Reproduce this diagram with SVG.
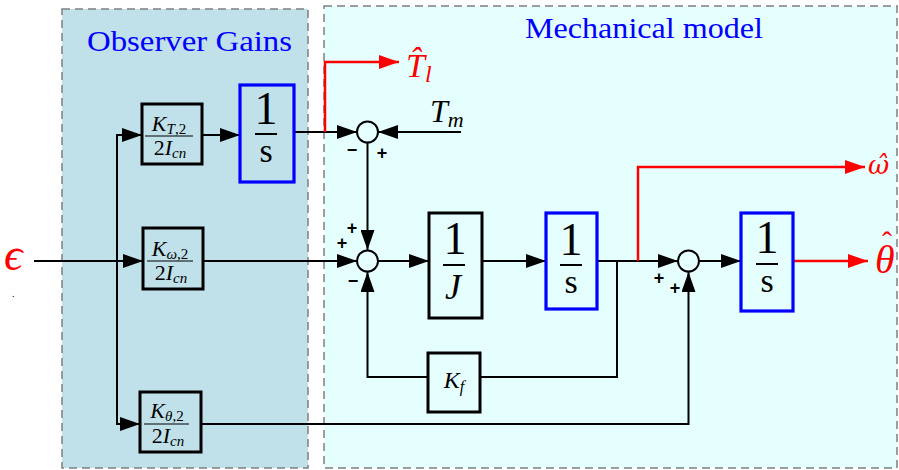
<svg xmlns="http://www.w3.org/2000/svg" width="899" height="470" viewBox="0 0 899 470">
<style>
.panel{stroke:#7f7f7f;stroke-width:1.5;stroke-dasharray:8 5}
.blk{fill:none;stroke:#000;stroke-width:3}
.blu{fill:none;stroke:#0000ff;stroke-width:3.2}
.w{fill:none;stroke:#000;stroke-width:2}
.r{fill:none;stroke:#ff0000;stroke-width:2.5}
.bar{stroke:#000;stroke-width:2}
.sbar{stroke:#000;stroke-width:1.2}
.sum{fill:#e6ffff;stroke:#000;stroke-width:2}
.m{font-family:"Liberation Serif","DejaVu Serif",serif;text-anchor:middle;fill:#000}
.ms{font-family:"Liberation Serif","DejaVu Serif",serif;fill:#000}
.dj{font-family:"DejaVu Serif",serif}
.red{fill:#ff0000}
.it{font-style:italic}
.sg{font-family:"Liberation Sans",Arial,sans-serif;font-weight:bold;font-size:18px;text-anchor:middle;fill:#000}
.ttl{font-family:"Liberation Serif",serif;font-size:30px;fill:#0000ff;text-anchor:middle}
</style>
<defs>
<marker id="a" viewBox="0 0 20 14" refX="20" refY="7" markerWidth="20" markerHeight="14" markerUnits="userSpaceOnUse" orient="auto"><path d="M0,0L20,7L0,14z" fill="#000"/></marker>
<marker id="ar" viewBox="0 0 20 14" refX="20" refY="7" markerWidth="20" markerHeight="14" markerUnits="userSpaceOnUse" orient="auto"><path d="M0,0L20,7L0,14z" fill="#ff0000"/></marker>
</defs>
<rect width="899" height="470" fill="#ffffff"/>
<g id="panel-observer">
<rect class="panel" x="62" y="9" width="246" height="459" fill="#c0e0ea"/>
<text class="ttl" x="189.5" y="51" textLength="205" lengthAdjust="spacingAndGlyphs">Observer Gains</text>
</g>
<g id="panel-mechanical">
<rect class="panel" x="324" y="6" width="573" height="462" fill="#e5ffff"/>
<text class="ttl" x="644" y="38" textLength="238" lengthAdjust="spacingAndGlyphs">Mechanical model</text>
</g>
<g id="connectors">
<path class="w" d="M34,261H143" marker-end="url(#a)"/>
<path class="w" d="M117,261V135H142" marker-end="url(#a)"/>
<path class="w" d="M117,261V424H140" marker-end="url(#a)"/>
<path class="w" d="M202,135H240" marker-end="url(#a)"/>
<path class="w" d="M294,132H357" marker-end="url(#a)"/>
<path class="w" d="M461,132H378" marker-end="url(#a)"/>
<path class="r" d="M325,132V62H399" marker-end="url(#ar)"/>
<path class="w" d="M367.5,143V250" marker-end="url(#a)"/>
<path class="w" d="M203,261H357" marker-end="url(#a)"/>
<path class="w" d="M378,261H429" marker-end="url(#a)"/>
<path class="w" d="M482,261H546" marker-end="url(#a)" stroke-width="2.5"/>
<path class="w" d="M597,261H678" marker-end="url(#a)"/>
<path class="w" d="M617,261V377H480"/>
<path class="w" d="M428,377H367.5V272" marker-end="url(#a)"/>
<path class="w" d="M201,424H688.5V272" marker-end="url(#a)"/>
<path class="r" d="M638,261V167H865" marker-end="url(#ar)"/>
<path class="w" d="M699,261H741" marker-end="url(#a)"/>
<path class="r" d="M793,261H868" marker-end="url(#ar)"/>
</g>
<g id="gain-KT">
<rect class="blk" x="142" y="104" width="60" height="60"/>
<text class="m" x="169" y="131" font-size="22"><tspan class="it">K</tspan><tspan font-size="15" dy="3"><tspan class="it">T</tspan>,2</tspan></text>
<line class="sbar" x1="145" y1="136" x2="193" y2="136"/>
<text class="m" x="170" y="155" font-size="22">2<tspan class="it">I</tspan><tspan class="it" font-size="15" dy="3">cn</tspan></text>
</g>
<g id="gain-Kw">
<rect class="blk" x="143" y="228" width="60" height="61"/>
<text class="m" x="170" y="256" font-size="22"><tspan class="it">K</tspan><tspan font-size="15" dy="3"><tspan class="it">ω</tspan>,2</tspan></text>
<line class="sbar" x1="147" y1="261" x2="193" y2="261"/>
<text class="m" x="171" y="280" font-size="22">2<tspan class="it">I</tspan><tspan class="it" font-size="15" dy="3">cn</tspan></text>
</g>
<g id="gain-Kth">
<rect class="blk" x="140" y="392" width="61" height="60"/>
<text class="m" x="167" y="418" font-size="22"><tspan class="it">K</tspan><tspan font-size="15" dy="3"><tspan class="it">θ</tspan>,2</tspan></text>
<line class="sbar" x1="144" y1="424" x2="189" y2="424"/>
<text class="m" x="168" y="443" font-size="22">2<tspan class="it">I</tspan><tspan class="it" font-size="15" dy="3">cn</tspan></text>
</g>
<g id="int-T">
<rect class="blu" x="240" y="85" width="54" height="97"/>
<text class="m" x="266" y="124" font-size="46">1</text>
<line class="bar" x1="255" y1="134" x2="277" y2="134"/>
<text class="m" x="266" y="162" font-size="34">s</text>
</g>
<g id="sum1">
<circle class="sum" cx="367.5" cy="132" r="10.5"/>
<text class="sg" x="352" y="156">−</text>
<text class="sg" x="382" y="159">+</text>
</g>
<g id="sum2">
<circle class="sum" cx="367.5" cy="261" r="10.5"/>
<text class="sg" x="352" y="234">+</text>
<text class="sg" x="342" y="249">+</text>
<text class="sg" x="353" y="287">−</text>
</g>
<g id="inertia">
<rect class="blk" x="429" y="213" width="53" height="105"/>
<text class="m" x="455" y="254" font-size="46">1</text>
<line class="bar" x1="443" y1="265" x2="465" y2="265"/>
<text class="m it" x="453" y="299" font-size="36">J</text>
</g>
<g id="int-w">
<rect class="blu" x="546" y="213" width="51" height="96"/>
<text class="m" x="571" y="255" font-size="46">1</text>
<line class="bar" x1="560" y1="265" x2="582" y2="265"/>
<text class="m" x="571" y="293" font-size="34">s</text>
</g>
<g id="friction">
<rect class="blk" x="428" y="353" width="52" height="59"/>
<text class="m" x="454" y="388" font-size="24"><tspan class="it">K</tspan><tspan class="it" font-size="16" dy="4">f</tspan></text>
</g>
<g id="sum3">
<circle class="sum" cx="688.5" cy="261" r="10.5"/>
<text class="sg" x="659" y="284">+</text>
<text class="sg" x="675" y="294">+</text>
</g>
<g id="int-th">
<rect class="blu" x="741" y="213" width="52" height="98"/>
<text class="m" x="767" y="253" font-size="46">1</text>
<line class="bar" x1="756" y1="264" x2="778" y2="264"/>
<text class="m" x="767" y="292" font-size="34">s</text>
</g>
<g id="labels">
<text class="ms red it" x="4" y="270" font-size="46">ϵ</text>
<text class="ms" x="12" y="297" font-size="10">.</text>
<text class="ms it" x="430" y="122" font-size="32">T<tspan font-size="22" dy="5">m</tspan></text>
<text class="ms red it" x="406" y="77" font-size="34">T̂<tspan font-size="24" dy="5">l</tspan></text>
<text class="dj red it" x="868" y="174" font-size="26">ω̂</text>
<text class="ms red it" x="875" y="273" font-size="40">θ<tspan x="882" y="252" font-size="30" font-style="normal">ˆ</tspan></text>
</g>
</svg>
